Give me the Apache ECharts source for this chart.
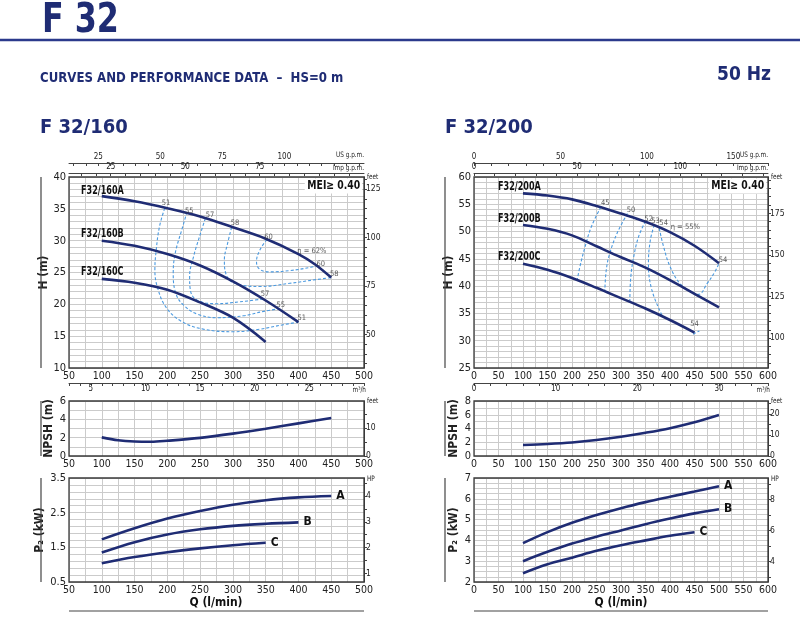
<!DOCTYPE html>
<html><head><meta charset="utf-8">
<script src="https://cdn.jsdelivr.net/npm/echarts@6/dist/echarts.min.js"></script>
<style>html,body{margin:0;padding:0;background:#fff}#c{width:800px;height:643px}</style>
</head><body><div id="c"></div>
<script>
const NAVY='#1f2c74', EFF='#4b9ae0', GRID='#cbcbcb', TXT='#222', FRAME='#3a3a3a';
const FONT="'Liberation Sans Narrow','DejaVu Sans Condensed','Open Sans',sans-serif";

// ---------- data: F 32/160 ----------
const hL_A=[[100,37.0],[150,36.2],[200,35.1],[250,33.8],[300,32.1],[350,30.3],[400,27.9],[425,26.3],[450,24.2]];
const hL_B=[[100,30.0],[150,29.2],[200,27.9],[250,26.1],[300,23.6],[350,20.6],[400,17.2]];
const hL_C=[[100,24.0],[150,23.4],[200,22.3],[250,20.3],[300,17.9],[350,14.1]];
const effL_51=[[196,35.1],[188,32.2],[183,28.5],[181,25.4],[186,22.3],[199,19.4],[222,17.3],[255,16.1],[301,15.7],[341,16.1],[377,16.8],[400,17.2]];
const effL_55=[[230,34.5],[222,31.7],[212,28],[209,24.9],[213,21.7],[224.5,19.9],[245,18.5],[275,17.9],[316,18.2],[347,18.9],[370,19.3]];
const effL_57=[[258,33.5],[249,30.6],[240,27.5],[234,24.4],[235,22.3],[245,20.7],[275,20.1],[311,20.4],[347,20.85]];
const effL_58=[[298,32.1],[292,29.6],[287,27],[290,24.6],[303,23.3],[341,22.8],[387,23.3],[428,23.9],[450,24.2]];
const effL_60=[[352,30.2],[341,28.5],[336,26.7],[341,25.5],[357,25.1],[387,25.3],[418,25.8],[431,26.1]];
const effLabelsL=[[198,35.9,'51'],[233.6,34.7,'55'],[265.2,34.0,'57'],[303.3,32.7,'58'],[354.2,30.6,'60'],[420.4,28.4,'η = 62%'],[434.1,26.3,'60'],[454.5,24.8,'58'],[349.1,21.6,'57'],[373.1,19.9,'55'],[405.1,17.9,'51']];
const nL=[[100,2.03],[125,1.72],[150,1.58],[175,1.55],[200,1.66],[250,1.98],[300,2.44],[350,2.98],[400,3.56],[450,4.15]];
const pL_A=[[100,1.73],[150,2.05],[200,2.33],[250,2.55],[300,2.73],[350,2.86],[400,2.94],[450,2.98]];
const pL_B=[[100,1.35],[150,1.65],[200,1.87],[250,2.02],[300,2.12],[350,2.18],[400,2.22]];
const pL_C=[[100,1.04],[150,1.22],[200,1.36],[250,1.47],[300,1.56],[350,1.63]];

// ---------- data: F 32/200 ----------
const hR_A=[[100,57.0],[150,56.6],[200,55.9],[250,54.7],[300,53.3],[350,51.8],[400,49.9],[450,47.4],[500,44.2]];
const hR_B=[[100,51.2],[150,50.5],[200,49.3],[250,47.3],[300,45.3],[350,43.4],[400,41.1],[450,38.6],[500,36.1]];
const hR_C=[[100,44.1],[150,43.0],[200,41.5],[250,39.7],[300,37.8],[350,35.9],[400,33.8],[450,31.5]];
const effR_45=[[259,54.5],[240,51],[226,47],[216,43.5],[211,41.3]];
const effR_50=[[313,53.3],[292,49.7],[277,46],[270,43],[267,39.2]];
const effR_52=[[350,51.9],[336,49.1],[326,45.4],[320,41.7],[318,37.2]];
const effR_53=[[368,51.2],[360,48.5],[356,44.2],[363,39.3],[384,34.6]];
const effR_54=[[378,50.6],[387,47.2],[400,43.6],[420,40.5],[440,39.2],[458,38.5],[476,40.5],[492,42.7],[500,44.2]];
const effR_54c=[[447,31.2],[460,31.8]];
const effLabelsR=[[268,55.2,'45'],[320.3,53.9,'50'],[356.4,52.3,'52'],[370.6,52.0,'53'],[387,51.5,'54'],[431.2,50.9,'η = 55%'],[508,44.7,'54'],[450.2,33.0,'54']];
const nR=[[100,1.6],[150,1.75],[200,1.97],[250,2.32],[300,2.8],[350,3.38],[400,4.05],[450,4.9],[500,5.95]];
const pR_A=[[100,3.87],[150,4.4],[200,4.85],[250,5.22],[300,5.55],[350,5.84],[400,6.1],[450,6.35],[500,6.6]];
const pR_B=[[100,3.0],[150,3.45],[200,3.85],[250,4.18],[300,4.48],[350,4.78],[400,5.05],[450,5.3],[500,5.5]];
const pR_C=[[100,2.42],[150,2.85],[200,3.17],[250,3.5],[300,3.77],[350,4.0],[400,4.22],[450,4.39]];

// ---------- tick labels ----------
const usL_labels=[25,50,75,100], impL_labels=[25,50,75], m3hL_labels=[5,10,15,20,25];
const ftHL_labels=[50,75,100,125], ftNL_labels=[0,10], hpL_labels=[1,2,3,4];
const usR_labels=[0,50,100,150], impR_labels=[0,50,100], m3hR_labels=[0,10,20,30];
const ftHR_labels=[100,125,150,175], ftNR_labels=[0,10,20], hpR_labels=[4,6,8];

const L_USG=3.7854, L_IMPG=4.5461, FT=3.28084, KW_HP=0.7457;
const ticks=(a,b,s)=>{const r=[];for(let v=a;v<=b+1e-9;v+=s)r.push(+v.toFixed(4));return r;};

const G=[
 {left:69,top:177,width:295,height:191},
 {left:69,top:401,width:295,height:55},
 {left:69,top:478,width:295,height:104},
 {left:474,top:177,width:294,height:191},
 {left:474,top:401,width:294,height:55},
 {left:474,top:478,width:294,height:104}
];

function mainX(g,min,max){return {type:'value',gridIndex:g,min,max,interval:50,position:'bottom',
 axisLine:{show:false,onZero:false},axisTick:{show:false},
 axisLabel:{color:TXT,fontSize:10.5,fontFamily:FONT,margin:3},
 splitLine:{show:true,lineStyle:{color:GRID,width:1}},
 minorTick:{show:false,splitNumber:2},minorSplitLine:{show:true,lineStyle:{color:GRID,width:1}}};}
function secX(g,pos,offset,min,max,labels,tk){return {type:'value',gridIndex:g,min,max,position:pos,offset,
 axisLine:{show:true,onZero:false,lineStyle:{color:'#444',width:1}},
 axisTick:{show:true,inside:pos==='top',length:3,customValues:tk,lineStyle:{color:'#444'}},
 axisLabel:{show:true,customValues:labels,fontSize:8,color:TXT,margin:2,fontFamily:FONT},
 splitLine:{show:false},minorSplitLine:{show:false}};}
function mainY(g,min,max,interval,minor,name,gap){return {type:'value',gridIndex:g,min,max,interval,position:'left',
 axisLine:{show:false,onZero:false},axisTick:{show:false},
 axisLabel:{color:TXT,fontSize:11,margin:3,fontFamily:FONT},
 splitLine:{show:true,lineStyle:{color:GRID,width:1}},
 minorTick:{show:false,splitNumber:minor},minorSplitLine:{show:true,lineStyle:{color:GRID,width:1}},
 name,nameLocation:'middle',nameRotate:90,nameGap:gap,
 nameTextStyle:{fontWeight:'bold',fontSize:12,color:TXT,fontFamily:FONT}};}
function secY(g,min,max,labels,tk){return {type:'value',gridIndex:g,min,max,position:'right',
 axisLine:{show:true,onZero:false,lineStyle:{color:FRAME}},
 axisTick:{show:true,length:3,customValues:tk,lineStyle:{color:'#444'}},
 axisLabel:{customValues:labels,fontSize:8.5,color:TXT,margin:2,fontFamily:FONT},
 splitLine:{show:false},minorSplitLine:{show:false}};}

const xAxis=[
 mainX(0,50,500),
 secX(0,'top',14,50/L_USG,500/L_USG,usL_labels,ticks(15,130,5)),
 secX(0,'top',4,50/L_IMPG,500/L_IMPG,impL_labels,ticks(15,105,5)),
 secX(0,'bottom',15,3,30,m3hL_labels,ticks(3,30,1)),
 mainX(1,50,500),
 mainX(2,50,500),
 mainX(3,0,600),
 secX(3,'top',14,0,170,usR_labels,ticks(0,170,10)),
 secX(3,'top',4,0,142.5,impR_labels,ticks(0,140,10)),
 secX(3,'bottom',15,0,36,m3hR_labels,ticks(0,36,2)),
 mainX(4,0,600),
 mainX(5,0,600)
];
const yAxis=[
 mainY(0,10,40,5,5,'H (m)',14),
 secY(0,10*FT,40*FT,ftHL_labels,ticks(35,130,5)),
 mainY(1,0,6,2,2,'NPSH (m)',14),
 secY(1,0,6*FT,ftNL_labels,ticks(0,15,5)),
 mainY(2,0.5,3.5,1,5,'P₂ (kW)',16),
 secY(2,0.5/KW_HP,3.5/KW_HP,hpL_labels,ticks(1,4.5,0.5)),
 mainY(3,25,60,5,5,'H (m)',14),
 secY(3,25*FT,60*FT,ftHR_labels,ticks(85,195,5)),
 mainY(4,0,8,2,2,'NPSH (m)',14),
 secY(4,0,8*FT,ftNR_labels,ticks(0,25,5)),
 mainY(5,2,7,1,4,'P₂ (kW)',14),
 secY(5,2/KW_HP,7/KW_HP,hpR_labels,ticks(3,9,1))
];

function curve(ax,data,name){return {type:'line',name,xAxisIndex:ax,yAxisIndex:ax,data,smooth:0.35,symbol:'none',
 lineStyle:{color:NAVY,width:2.6},silent:true,z:5};}
function pcurve(ax,data,name){const s=curve(ax,data,name);
 s.endLabel={show:true,formatter:'{a}',fontWeight:'bold',fontSize:12,color:'#111',fontFamily:FONT,distance:5};return s;}
function eff(ax,data){return {type:'line',xAxisIndex:ax,yAxisIndex:ax,data,smooth:0.4,symbol:'none',
 lineStyle:{color:EFF,width:1.1,type:[3,2]},silent:true,z:4};}
function effLab(ax,arr){return {type:'scatter',xAxisIndex:ax,yAxisIndex:ax,symbolSize:0,silent:true,z:6,
 data:arr.map(d=>({value:[d[0],d[1]],label:{formatter:d[2]}})),
 label:{show:true,position:'inside',fontSize:7.5,color:'#333',fontFamily:FONT}};}

const series=[
 curve(0,hL_A,'A'),curve(0,hL_B,'B'),curve(0,hL_C,'C'),
 eff(0,effL_51),eff(0,effL_55),eff(0,effL_57),eff(0,effL_58),eff(0,effL_60),effLab(0,effLabelsL),
 curve(4,nL,'N'),
 pcurve(5,pL_A,'A'),pcurve(5,pL_B,'B'),pcurve(5,pL_C,'C'),
 curve(6,hR_A,'A'),curve(6,hR_B,'B'),curve(6,hR_C,'C'),
 eff(6,effR_45),eff(6,effR_50),eff(6,effR_52),eff(6,effR_53),eff(6,effR_54),eff(6,effR_54c),effLab(6,effLabelsR),
 curve(10,nR,'N'),
 pcurve(11,pR_A,'A'),pcurve(11,pR_B,'B'),pcurve(11,pR_C,'C')
];
const yMap={0:0,4:2,5:4,6:6,10:8,11:10};
series.forEach(s=>{s.yAxisIndex=yMap[s.xAxisIndex];});

function txt(x,y,text,size,opt={}){return {type:'text',x,y,z:100,silent:true,scaleX:opt.sx||1,
 style:{text,fontSize:size,fontWeight:opt.w||'normal',fontFamily:FONT,fill:opt.c||TXT,
 align:opt.a||'left',verticalAlign:'middle',backgroundColor:opt.bg,padding:opt.pad}};}
function line(x1,y1,x2,y2,c,w){return {type:'line',z:100,silent:true,shape:{x1,y1,x2,y2},style:{stroke:c,lineWidth:w}};}

const graphic=[
 txt(42,21,'F 32',41,{w:'bold',c:NAVY,sx:0.86}),
 line(0,40,800,40,'#2b3a8c',2.5),
 txt(40,78,'CURVES AND PERFORMANCE DATA  –  HS=0 m',13.5,{w:'bold',c:NAVY,sx:0.97}),
 txt(771,75,'50 Hz',19,{w:'bold',c:NAVY,a:'right'}),
 txt(40,128,'F 32/160',20,{w:'bold',c:NAVY}),
 txt(445,128,'F 32/200',20,{w:'bold',c:NAVY}),
 txt(81,191,'F32/160A',11.5,{w:'bold',c:'#111',sx:0.78}),
 txt(81,234,'F32/160B',11.5,{w:'bold',c:'#111',sx:0.78}),
 txt(81,272,'F32/160C',11.5,{w:'bold',c:'#111',sx:0.78}),
 txt(498,187,'F32/200A',11.5,{w:'bold',c:'#111',sx:0.78}),
 txt(498,219,'F32/200B',11.5,{w:'bold',c:'#111',sx:0.78}),
 txt(498,257,'F32/200C',11.5,{w:'bold',c:'#111',sx:0.78}),
 txt(362,186,'MEI≥ 0.40',12,{w:'bold',c:'#111',a:'right',bg:'#fff',pad:[2,2,1,3],sx:0.86}),
 txt(766,186,'MEI≥ 0.40',12,{w:'bold',c:'#111',a:'right',bg:'#fff',pad:[2,2,1,3],sx:0.86}),
 txt(364,155,'US g.p.m.',7.5,{a:'right',sx:0.85}),txt(364,168,'Imp g.p.m.',7.5,{a:'right',sx:0.85}),
 txt(768,155,'US g.p.m.',7.5,{a:'right',sx:0.85}),txt(768,168,'Imp g.p.m.',7.5,{a:'right',sx:0.85}),
 txt(366,390,'m³/h',7.5,{a:'right',sx:0.85}),txt(770,390,'m³/h',7.5,{a:'right',sx:0.85}),
 txt(367,177,'feet',7.5,{sx:0.85}),txt(771,177,'feet',7.5,{sx:0.85}),
 txt(367,401,'feet',7.5,{sx:0.85}),txt(771,401,'feet',7.5,{sx:0.85}),
 txt(367,479,'HP',7.5,{sx:0.85}),txt(771,479,'HP',7.5,{sx:0.85}),
 txt(216,603,'Q (l/min)',12,{w:'bold',a:'center',c:'#111'}),
 txt(621,603,'Q (l/min)',12,{w:'bold',a:'center',c:'#111'}),
 line(69,611,364,611,'#444',1.2),line(474,611,768,611,'#444',1.2)
];
G.forEach((g,i)=>{
 graphic.push({type:'rect',z:90,silent:true,shape:{x:g.left,y:g.top,width:g.width,height:g.height},style:{fill:'none',stroke:FRAME,lineWidth:1.3}});
 const vx=i<3?41:445; graphic.push(line(vx,g.top,vx,g.top+g.height,'#444',1.2));
});

const chart=echarts.init(document.getElementById('c'),null,{renderer:'canvas'});
chart.setOption({animation:false,backgroundColor:'#fff',
 grid:G.map(g=>Object.assign({show:false,containLabel:false},g)),
 xAxis,yAxis,series,graphic});
</script></body></html>
